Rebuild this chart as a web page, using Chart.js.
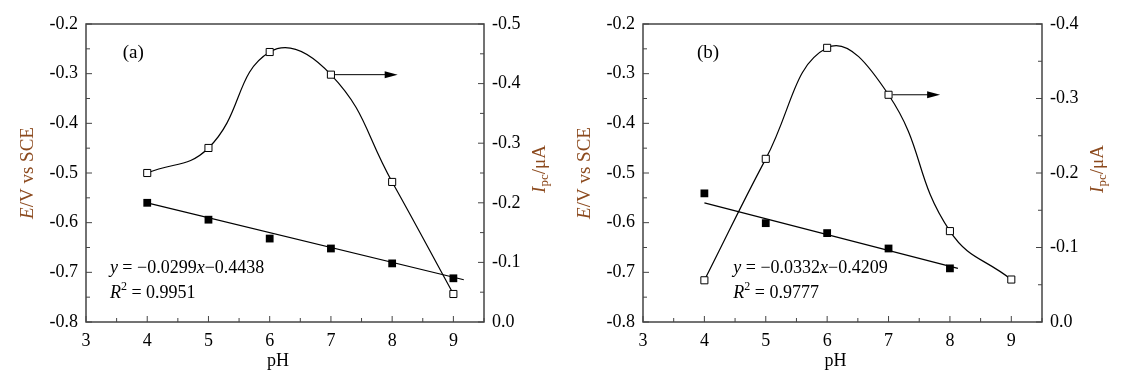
<!DOCTYPE html>
<html>
<head>
<meta charset="utf-8">
<script src="https://cdn.jsdelivr.net/npm/chart.js@4"></script>
<style>
  body { margin: 0; background: #fff; }
  canvas { position: absolute; top: 0; }
  #chart-a { left: 0; }
  #chart-b { left: 561px; }
</style>
</head>
<body>
<canvas id="chart-a" width="561" height="376"></canvas>
<canvas id="chart-b" width="562" height="376"></canvas>
<script>
// values
const pH = [4, 5, 6, 7, 8, 9];

// panel (a)
const potentialA = [-0.560, -0.594, -0.632, -0.652, -0.682, -0.712];
const currentA = [-0.250, -0.292, -0.453, -0.415, -0.235, -0.047];
const fitXA = [4, 9.17];
const fitYA = [-0.560, -0.715];
const arrowXA = [7, 8.09];

// panel (b)
const pHB = [4, 5, 6, 7, 8];
const potentialB = [-0.541, -0.601, -0.621, -0.652, -0.692];
const currentB = [-0.056, -0.219, -0.368, -0.305, -0.122, -0.057];
const fitXB = [4, 8.13];
const fitYB = [-0.560, -0.692];
const arrowXB = [7, 7.84];

const FONT = '"Liberation Serif", "Times New Roman", serif';
const BROWN = '#8c4a1e';

function pts(xs, ys) {
  return xs.map((x, i) => ({ x: x, y: ys[i] }));
}

function isMajor(v, step) {
  return Math.abs(v / step - Math.round(v / step)) < 1e-6;
}

function drawRuns(ctx, x, y, runs, base) {
  let cx = x;
  runs.forEach(r => {
    const size = r.size || base;
    ctx.font = (r.italic ? 'italic ' : '') + size + 'px ' + FONT;
    ctx.fillText(r.t, cx, y + (r.dy || 0));
    cx += ctx.measureText(r.t).width;
  });
}

function runsWidth(ctx, runs, base) {
  let w = 0;
  runs.forEach(r => {
    ctx.font = (r.italic ? 'italic ' : '') + (r.size || base) + 'px ' + FONT;
    w += ctx.measureText(r.t).width;
  });
  return w;
}

function makeChart(canvas, cfg) {
  const decor = {
    id: 'decor',
    afterDraw(chart) {
      const ctx = chart.ctx, a = chart.chartArea;
      const sx = chart.scales.x, sy = chart.scales.y, sy1 = chart.scales.y1;
      ctx.save();

      // frame
      ctx.strokeStyle = '#444';
      ctx.lineWidth = 1.5;
      ctx.strokeRect(a.left, a.top, a.right - a.left, a.bottom - a.top);

      // inward ticks
      ctx.lineWidth = 1;
      ctx.beginPath();
      sx.ticks.forEach(t => {
        const p = sx.getPixelForValue(t.value);
        const len = isMajor(t.value, 1) ? 6 : 4;
        ctx.moveTo(p, a.bottom); ctx.lineTo(p, a.bottom - len);
      });
      sy.ticks.forEach(t => {
        const p = sy.getPixelForValue(t.value);
        const len = isMajor(t.value, 0.1) ? 6 : 4;
        ctx.moveTo(a.left, p); ctx.lineTo(a.left + len, p);
      });
      sy1.ticks.forEach(t => {
        const p = sy1.getPixelForValue(t.value);
        const len = isMajor(t.value, 0.1) ? 6 : 4;
        ctx.moveTo(a.right, p); ctx.lineTo(a.right - len, p);
      });
      ctx.stroke();

      // arrow pointing to right axis
      const ay = sy1.getPixelForValue(cfg.current[3]);
      const ax0 = sx.getPixelForValue(cfg.arrowX[0]) + 4;
      const ax1 = sx.getPixelForValue(cfg.arrowX[1]);
      ctx.strokeStyle = '#000';
      ctx.beginPath();
      ctx.moveTo(ax0, ay); ctx.lineTo(ax1 - 10, ay);
      ctx.stroke();
      ctx.fillStyle = '#000';
      ctx.beginPath();
      ctx.moveTo(ax1, ay);
      ctx.lineTo(ax1 - 13, ay - 3.5);
      ctx.lineTo(ax1 - 13, ay + 3.5);
      ctx.closePath();
      ctx.fill();

      // texts
      ctx.fillStyle = '#000';
      ctx.textBaseline = 'middle';
      ctx.textAlign = 'left';
      drawRuns(ctx, sx.getPixelForValue(cfg.tagX), sy.getPixelForValue(-0.258), [{ t: cfg.tag }], 19);
      const ex = sx.getPixelForValue(cfg.eqX);
      drawRuns(ctx, ex, sy.getPixelForValue(-0.691), cfg.eq, 18);
      drawRuns(ctx, ex, sy.getPixelForValue(-0.742), cfg.r2, 18);

      // pH title
      const phRuns = [{ t: 'pH' }];
      drawRuns(ctx, (a.left + a.right) / 2 - 7 - runsWidth(ctx, phRuns, 18) / 2, 361, phRuns, 18);

      // left title
      ctx.fillStyle = BROWN;
      const eRuns = [{ t: 'E', italic: true }, { t: '/V vs SCE' }];
      ctx.save();
      ctx.translate(a.left - 58, (a.top + a.bottom) / 2);
      ctx.rotate(-Math.PI / 2);
      drawRuns(ctx, -runsWidth(ctx, eRuns, 19) / 2, 0, eRuns, 19);
      ctx.restore();

      // right title
      const iRuns = [{ t: 'I', italic: true }, { t: 'pc', size: 13, dy: 5 }, { t: '/\u03bcA' }];
      ctx.save();
      ctx.translate(a.right + 56, (a.top + a.bottom) / 2 - 4);
      ctx.rotate(-Math.PI / 2);
      drawRuns(ctx, -runsWidth(ctx, iRuns, 19) / 2, 0, iRuns, 19);
      ctx.restore();

      ctx.restore();
    }
  };

  const tickFont = { family: FONT, size: 18 };

  return new Chart(canvas.getContext('2d'), {
    type: 'scatter',
    data: {
      datasets: [
        {
          data: pts(cfg.pHE, cfg.potential),
          yAxisID: 'y',
          pointStyle: 'rect',
          pointRadius: 5.5,
          backgroundColor: '#000',
          borderColor: '#000',
          borderWidth: 0,
          showLine: false
        },
        {
          data: pts(cfg.fitX, cfg.fitY),
          yAxisID: 'y',
          pointRadius: 0,
          borderColor: '#000',
          borderWidth: 1.2,
          showLine: true
        },
        {
          data: pts(pH, cfg.current),
          yAxisID: 'y1',
          pointStyle: 'rect',
          pointRadius: 5,
          pointBackgroundColor: '#fff',
          pointBorderColor: '#000',
          pointBorderWidth: 1,
          borderColor: '#000',
          borderWidth: 1.2,
          showLine: true,
          tension: 0.45
        }
      ]
    },
    options: {
      responsive: false,
      animation: false,
      devicePixelRatio: 1,
      layout: { padding: { left: 0, right: cfg.padRight, top: 24, bottom: 0 } },
      plugins: { legend: { display: false }, tooltip: { enabled: false } },
      scales: {
        x: {
          type: 'linear',
          min: 3, max: 9.5,
          grid: { display: false },
          border: { display: false },
          afterFit: s => { s.height = 54; },
          ticks: {
            stepSize: 0.5, autoSkip: false, maxRotation: 0, padding: 0,
            color: '#000', font: tickFont,
            callback: v => isMajor(v, 1) ? String(Math.round(v)) : ''
          }
        },
        y: {
          position: 'left',
          min: -0.8, max: -0.2,
          grid: { display: false },
          border: { display: false },
          afterFit: s => { s.width = cfg.leftWidth; },
          ticks: {
            stepSize: 0.05, autoSkip: false, padding: 0,
            color: '#000', font: tickFont,
            callback: v => isMajor(v, 0.1) ? (Math.round(v * 10) / 10).toFixed(1) : ''
          }
        },
        y1: {
          position: 'right',
          min: cfg.rightMin, max: 0,
          reverse: true,
          grid: { display: false },
          border: { display: false },
          afterFit: s => { s.width = 60; },
          ticks: {
            stepSize: 0.05, autoSkip: false, padding: 0,
            color: '#000', font: tickFont,
            callback: v => isMajor(v, 0.1) ? (Math.round(v * 10) / 10).toFixed(1) : ''
          }
        }
      }
    },
    plugins: [decor]
  });
}

makeChart(document.getElementById('chart-a'), {
  pHE: pH, potential: potentialA, current: currentA,
  fitX: fitXA, fitY: fitYA, arrowX: arrowXA,
  rightMin: -0.5, leftWidth: 86, padRight: 17,
  tag: '(a)', tagX: 3.6, eqX: 3.39,
  eq: [{ t: 'y', italic: true }, { t: ' = \u22120.0299' }, { t: 'x', italic: true }, { t: '\u22120.4438' }],
  r2: [{ t: 'R', italic: true }, { t: '2', size: 12, dy: -6 }, { t: ' = 0.9951' }]
});

makeChart(document.getElementById('chart-b'), {
  pHE: pHB, potential: potentialB, current: currentB,
  fitX: fitXB, fitY: fitYB, arrowX: arrowXB,
  rightMin: -0.4, leftWidth: 82, padRight: 21,
  tag: '(b)', tagX: 3.88, eqX: 4.47,
  eq: [{ t: 'y', italic: true }, { t: ' = \u22120.0332' }, { t: 'x', italic: true }, { t: '\u22120.4209' }],
  r2: [{ t: 'R', italic: true }, { t: '2', size: 12, dy: -6 }, { t: ' = 0.9777' }]
});
</script>
</body>
</html>
